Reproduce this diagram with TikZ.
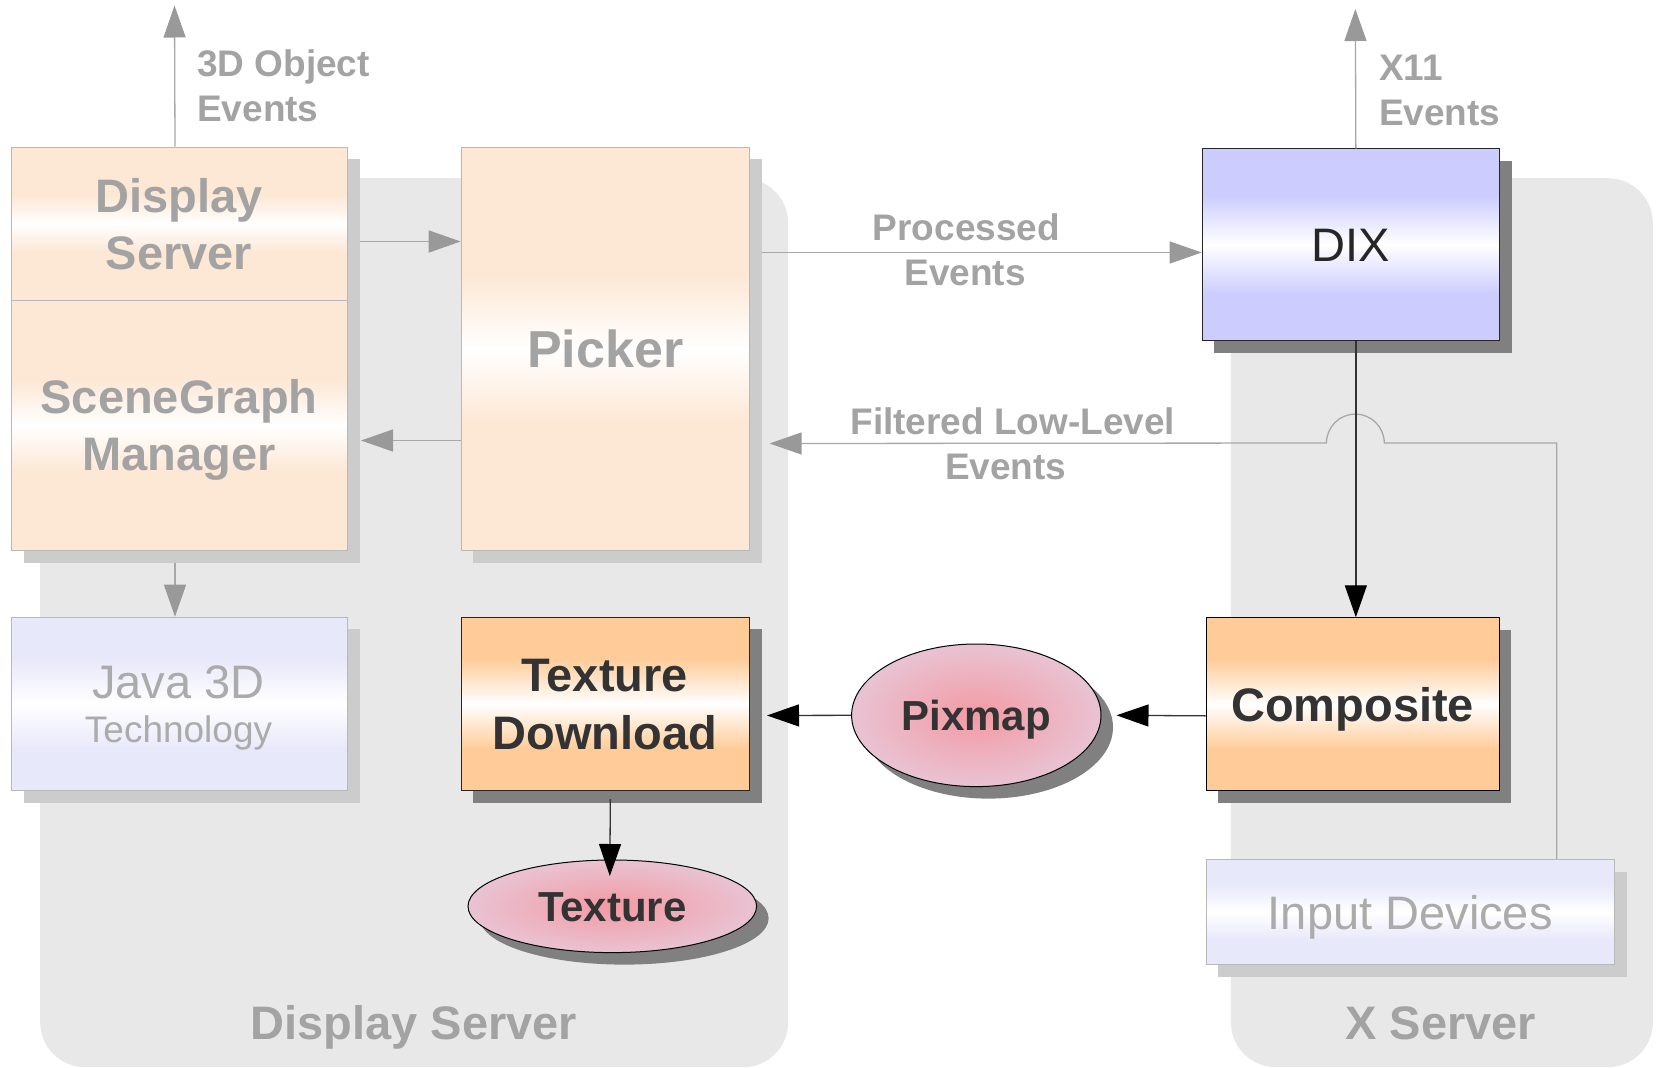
\documentclass[tikz,border=0pt]{standalone}
\usepackage{fontspec}
\setmainfont{Liberation Sans}
\usetikzlibrary{arrows.meta,shapes.geometric}

% palette
\definecolor{groupbg}{HTML}{E8E8E8}
\definecolor{peach}{HTML}{FDE8D6}
\definecolor{apricot}{HTML}{FFCC99}
\definecolor{lavender}{HTML}{CCCCFF}
\definecolor{palelav}{HTML}{E8E8FB}
\definecolor{softtext}{HTML}{A3A3A3}
\definecolor{paletext}{HTML}{ABABAB}
\definecolor{inktext}{HTML}{333333}
\definecolor{softedge}{HTML}{B8B8B8}
\definecolor{softwire}{HTML}{A8A8A8}
\definecolor{softhead}{HTML}{999999}
\definecolor{lightshade}{HTML}{CCCCCC}
\definecolor{darkshade}{HTML}{808080}
\definecolor{pinkcore}{HTML}{F39AA4}
\definecolor{pinkrim}{HTML}{E9C3D3}

% colour -> white band -> colour fills
\pgfdeclareverticalshading{peachband}{100bp}{color(0bp)=(peach); color(41bp)=(peach); color(50bp)=(white); color(59bp)=(peach); color(100bp)=(peach)}
\pgfdeclareverticalshading{apricotband}{100bp}{color(0bp)=(apricot); color(37bp)=(apricot); color(50bp)=(white); color(63bp)=(apricot); color(100bp)=(apricot)}
\pgfdeclareverticalshading{lavenderband}{100bp}{color(0bp)=(lavender); color(37bp)=(lavender); color(50bp)=(white); color(63bp)=(lavender); color(100bp)=(lavender)}
\pgfdeclareverticalshading{palelavband}{100bp}{color(0bp)=(palelav); color(37bp)=(palelav); color(50bp)=(white); color(63bp)=(palelav); color(100bp)=(palelav)}

\tikzset{
  castshadow/.style={preaction={fill=#1, draw=none, transform canvas={shift={(12pt,-12pt)}}}},
  group/.style={rectangle, fill=groupbg, rounded corners=45pt, inner sep=0pt, anchor=north west},
  softbox/.style={rectangle, draw=softedge, line width=1pt, inner sep=0pt, anchor=north west, shade, castshadow=lightshade},
  strongbox/.style={rectangle, draw=black!85, line width=1pt, inner sep=0pt, anchor=north west, shade, castshadow=darkshade},
  blob/.style={ellipse, draw=black, line width=1pt, inner sep=0pt, inner color=pinkcore, outer color=pinkrim, castshadow=darkshade, text=inktext},
  edgetext/.style={font=\fontsize{37}{44}\selectfont\bfseries, text=softtext, inner sep=0pt},
  bigbold/.style={font=\fontsize{47}{56}\selectfont\bfseries, inner sep=0pt},
  bigplain/.style={font=\fontsize{47}{56}\selectfont, inner sep=0pt},
  softarrow/.style={draw=softwire, line width=1.3pt, -{Triangle[length=32pt,width=22pt,color=softhead]}},
  softwireline/.style={draw=softwire, line width=1.3pt},
  inkarrow/.style={draw=black!80, line width=1.3pt, -{Triangle[length=32pt,width=22pt,color=black]}}
}

\begin{document}
\begin{tikzpicture}[x=1pt,y=-1pt]
\useasboundingbox (0,0) rectangle (1660,1068);

% server groups
\node[group, minimum width=748, minimum height=889] (dsgroup) at (40,178) {};
\node[group, minimum width=422, minimum height=889] (xsgroup) at (1230.7,178) {};
\node[bigbold, text=softtext, anchor=base] (dsname) at (414,1039) {Display Server};
\node[bigbold, text=softtext, anchor=base] (xsname) at (1440.8,1039) {X Server};

% display server components
\node[softbox, shading=peachband, minimum width=336, minimum height=153.5] (dsv) at (11,146.5) {};
\node[softbox, shading=peachband, minimum width=336, minimum height=250] (sgm) at (11,300) {};
\node[softbox, shading=peachband, minimum width=288.3, minimum height=403.5,
      font=\fontsize{52}{62}\selectfont\bfseries, text=softtext, text height=37.2pt, text depth=0pt]
      (pick) at (460.7,146.5) {Picker};
\node[softbox, shading=palelavband, minimum width=336, minimum height=173.3] (j3d) at (11,616.7) {};
\node[strongbox, shading=apricotband, minimum width=288.3, minimum height=173.3] (tdl) at (460.7,616.7) {};

\node[bigbold, text=softtext, anchor=base] (dsv1) at (179,212) {Display};
\node[bigbold, text=softtext, anchor=base] (dsv2) at (179,269) {Server};
\node[bigbold, text=softtext, anchor=base] (sgm1) at (179,413.6) {SceneGraph};
\node[bigbold, text=softtext, anchor=base] (sgm2) at (179,470.6) {Manager};
\node[bigplain, text=paletext, anchor=base] (j3d1) at (178.5,698) {Java 3D};
\node[font=\fontsize{37}{44}\selectfont, inner sep=0pt, text=paletext, anchor=base] (j3d2) at (178.5,742.7) {Technology};
\node[bigbold, text=inktext, anchor=base] (tdl1) at (604.7,691.7) {Texture};
\node[bigbold, text=inktext, anchor=base] (tdl2) at (604.7,749.3) {Download};

% pixmap and texture resources
\node[blob, minimum width=249.4, minimum height=142.6,
      font=\fontsize{42}{50}\selectfont\bfseries, text height=30pt, text depth=0pt]
      (pix) at (976.3,715.3) {Pixmap};
\node[blob, minimum width=288.6, minimum height=92.6,
      font=\fontsize{42}{50}\selectfont\bfseries, text height=30pt, text depth=0pt]
      (tex) at (612.3,906.3) {Texture};

% X server components
\node[strongbox, shading=lavenderband, minimum width=297.3, minimum height=191.7,
      bigplain, text=black!85, text height=33.7pt, text depth=0pt]
      (dix) at (1201.7,148.3) {DIX};
\node[strongbox, draw=black, shading=apricotband, minimum width=293.3, minimum height=172.7,
      bigbold, text=inktext, text height=33.7pt, text depth=0pt]
      (comp) at (1205.5,617.3) {Composite};
\node[softbox, shading=palelavband, minimum width=408.5, minimum height=105.3,
      bigplain, text=paletext, text height=33.7pt, text depth=0pt]
      (inpd) at (1205.5,859) {Input Devices};

% free ends and the crossing point
\coordinate (evt3d) at (174.5,5.5);
\coordinate (evtx11) at (1355.35,9);
\coordinate (xjump) at (1355.35,443);

% connectors
\draw[softarrow] ([shift={(-4.5,0)}]dsv.north) -- (evt3d);
\draw[softarrow] ([shift={(12,17.75)}]dsv.east) -- ([shift={(0,-107.25)}]pick.west);
\draw[softarrow] ([shift={(0,91.75)}]pick.west) -- ([shift={(13,15)}]sgm.east);
\draw[softarrow] ([shift={(-4.5,11.6)}]sgm.south) -- ([shift={(-4.5,0)}]j3d.north);
\draw[softarrow] ([shift={(12,-96.25)}]pick.east) -- ([shift={(0,7.85)}]dix.west);
\draw[softarrow] ([shift={(5,0)}]dix.north) -- (evtx11);
\draw[softarrow] ([shift={(146.45,0)}]inpd.north) |- ([shift={(28.9,0)}]xjump)
   arc[start angle=0, end angle=180, radius=28.9pt] -- ([shift={(19.6,94.75)}]pick.east);

\draw[inkarrow] ([shift={(5,0)}]dix.south) -- ([shift={(3.2,0)}]comp.north);
\draw[inkarrow] ([shift={(0,11.7)}]comp.west) -- ([shift={(15,0)}]pix.east);
\draw[inkarrow] (pix.west) -- ([shift={(17,11.65)}]tdl.east);
\draw[inkarrow] ([shift={(5,8)}]tdl.south) -- ([shift={(-2.5,16.5)}]tex.north);

% connector labels
\node[edgetext, anchor=base west] (l3d1) at (197,76.6) {3D Object};
\node[edgetext, anchor=base west] (l3d2) at (197,121) {Events};
\node[edgetext, anchor=base west] (lx1) at (1378.8,80.6) {X11};
\node[edgetext, anchor=base west] (lx2) at (1378.8,125.8) {Events};
\node[edgetext, anchor=base] (lp1) at (966.5,240.5) {Processed};
\node[edgetext, anchor=base] (lp2) at (965,285) {Events};
\node[edgetext, anchor=base] (lf1) at (1012.8,434.7) {Filtered Low-Level};
\node[edgetext, anchor=base] (lf2) at (1005.7,479) {Events};
\end{tikzpicture}
\end{document}
